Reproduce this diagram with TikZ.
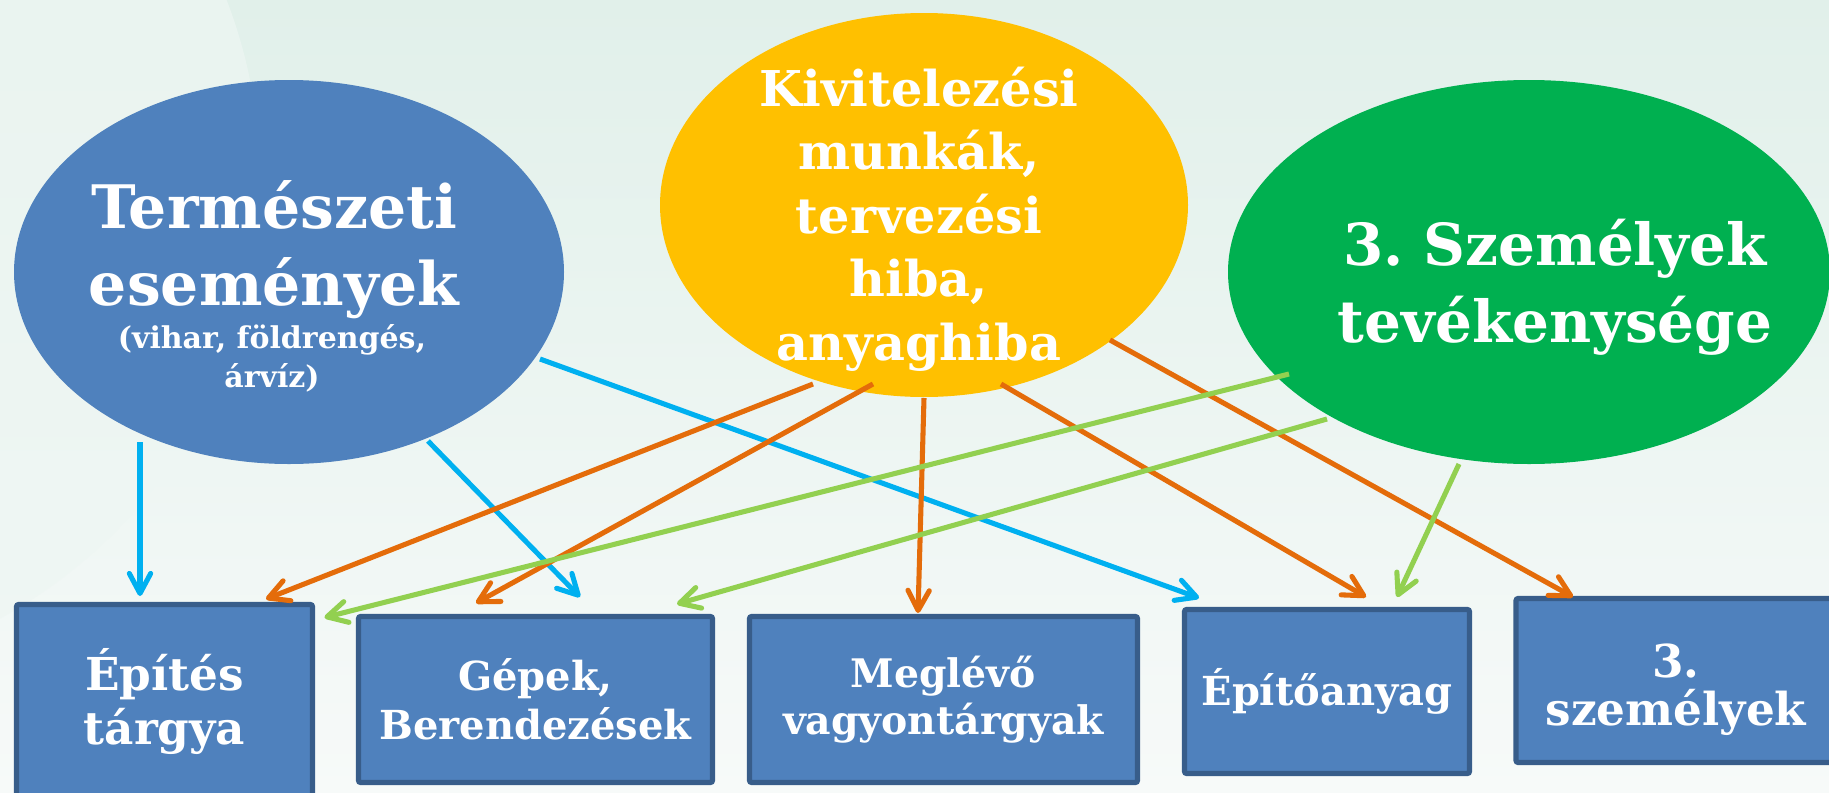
\documentclass[tikz,border=0pt]{standalone}
\usepackage{fontspec}
\setmainfont{DejaVu Serif}
\usepackage{tikz}
\usetikzlibrary{arrows.meta,calc,shapes.geometric}

\definecolor{bluefill}{RGB}{79,129,189}
\definecolor{boxedge}{RGB}{56,93,138}
\definecolor{yellowfill}{RGB}{255,192,0}
\definecolor{greenfill}{RGB}{0,176,80}
\definecolor{cyanarr}{RGB}{0,176,240}
\definecolor{orangearr}{RGB}{228,108,10}
\definecolor{limearr}{RGB}{146,208,80}
\definecolor{bgtop}{RGB}{225,240,234}
\definecolor{bgbot}{RGB}{247,250,249}
\definecolor{bglite}{RGB}{238,246,243}

\begin{document}
\begin{tikzpicture}[x=0.75pt,y=0.75pt,yscale=-1,xscale=1,
  blob/.style={ellipse, inner sep=0pt, outer sep=0pt},
  causetext/.style={text=white, align=center, inner sep=0pt, anchor=base},
  target/.style={rectangle, draw=boxedge, fill=bluefill, line width=3.8pt, rounded corners=1.5pt,
    text=white, align=center, inner sep=0pt, outer sep=0pt},
  link/.style={line width=3.8pt, -{Straight Barb[length=15pt,width=16pt,round]}},
  cyanlink/.style={link, color=cyanarr},
  orangelink/.style={link, color=orangearr},
  limelink/.style={link, color=limearr}]

%Background
\clip (0,0) rectangle (1829,793);
\shade[top color=bgtop, bottom color=bgbot] (0,0) rectangle (1829,793);
\fill[bglite, opacity=0.7] (-240,180) circle [radius=500];

%Shape: Ellipse
\node[blob, fill=bluefill, minimum width=412.5pt, minimum height=288pt] (nat) at (289,272) {};
%Shape: Ellipse
\node[blob, fill=yellowfill, minimum width=396pt, minimum height=288pt] (kiv) at (924,205) {};
%Shape: Ellipse
\node[blob, fill=greenfill, minimum width=451.5pt, minimum height=288pt] (szem) at (1529,272) {};

% Text Node
\node[causetext, font=\bfseries\fontsize{45}{57.75}\selectfont] (natT) at (274,305) {Természeti\\események};
% Text Node
\node[causetext, font=\bfseries\fontsize{22.5}{29}\selectfont] (natS) at (272,387) {(vihar, földrengés,\\árvíz)};
% Text Node
\node[causetext, font=\bfseries\fontsize{37}{47.6}\selectfont] (kivT) at (919,360) {Kivitelezési\\munkák,\\tervezési\\hiba,\\anyaghiba};
% Text Node
\node[causetext, font=\bfseries\fontsize{43.5}{57.75}\selectfont] (szemT) at (1555,342) {3.\ Személyek\\tevékenysége};

%Shape: Rectangle
\node[target, minimum width=222pt, minimum height=146.25pt, font=\bfseries\fontsize{34}{40.5}\selectfont] (ep) at (164.5,702) {Építés\\tárgya};
%Shape: Rectangle
\node[target, minimum width=265.5pt, minimum height=124.5pt, font=\bfseries\fontsize{30}{37}\selectfont] (gep) at (535.5,699.5) {Gépek,\\Berendezések};
%Shape: Rectangle
\node[target, minimum width=291pt, minimum height=124.5pt, font=\bfseries\fontsize{29.5}{35}\selectfont] (meg) at (943.5,699.5) {Meglévő\\vagyontárgyak};
%Shape: Rectangle
\node[target, minimum width=213.75pt, minimum height=123pt, font=\bfseries\fontsize{30}{37}\selectfont] (epa) at (1327,691.5) {Építőanyag};
%Shape: Rectangle
\node[target, minimum width=240pt, minimum height=123pt] (sz3) at (1676,680.5) {};
% Text Node
\node[causetext, font=\bfseries\fontsize{34}{36}\selectfont] (sz3T) at (1676,725) {3.\\személyek};

%Straight Lines
\draw[cyanlink] ($(nat.center)+(-149,170)$) -- ($(ep.north)+(-24.5,-8.5)$);
\draw[cyanlink] ($(nat.center)+(139,169)$) -- ($(gep.north)+(44.5,-19.5)$);
\draw[cyanlink] ($(nat.center)+(251,87)$) -- ($(epa.north)+(-128,-11.5)$);
%Straight Lines
\draw[orangelink] ($(kiv.center)+(-111,179)$) -- ($(ep.north)+(101.5,-5.5)$);
\draw[orangelink] ($(kiv.center)+(-51,179)$) -- ($(gep.north)+(-59.5,-13.5)$);
\draw[orangelink] ($(kiv.center)+(0,193)$) -- ($(meg.north)+(-25.5,-3.5)$);
\draw[orangelink] ($(kiv.center)+(77,179)$) -- ($(epa.north)+(39,-12.5)$);
\draw[orangelink] ($(kiv.center)+(186,135)$) -- ($(sz3.north)+(-103,-1.5)$);
%Straight Lines
\draw[limelink] ($(szem.center)+(-240,102)$) -- ($(ep.north east)+(12,13)$);
\draw[limelink] ($(szem.center)+(-202,147)$) -- ($(gep.north)+(141.5,-12.5)$);
\draw[limelink] ($(szem.center)+(-70,192)$) -- ($(epa.north)+(70,-12.5)$);

\end{tikzpicture}
\end{document}
